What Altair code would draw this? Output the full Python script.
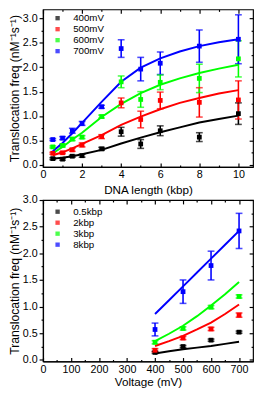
import altair as alt
import pandas as pd

# ---------- top panel: frequency vs DNA length ----------
kbp = [0.5, 1, 1.5, 2, 3, 4, 5, 6, 8, 10]
f400 = [0.13, 0.12, 0.18, 0.19, 0.33, 0.68, 0.43, 0.70, 0.57, 1.05]
e400 = [0.02, 0.02, 0.02, 0.03, 0.03, 0.09, 0.09, 0.10, 0.09, 0.22]
f500 = [0.24, 0.25, 0.31, 0.41, 0.58, 1.27, 0.93, 1.32, 1.28, 1.33]
e500 = [0.02, 0.02, 0.03, 0.04, 0.04, 0.10, 0.17, 0.17, 0.30, 0.39]
f600 = [0.37, 0.40, 0.53, 0.57, 0.99, 1.70, 1.34, 1.69, 1.77, 2.17]
e600 = [0.02, 0.03, 0.03, 0.03, 0.03, 0.12, 0.16, 0.15, 0.29, 0.37]
f700 = [0.52, 0.55, 0.70, 0.85, 1.19, 2.38, 1.96, 2.08, 2.43, 2.57]
e700 = [0.02, 0.03, 0.05, 0.04, 0.03, 0.18, 0.24, 0.23, 0.33, 0.50]

kbp_fit = [0.5, 1, 1.5, 2, 3, 4, 5, 6, 7, 8, 9, 10]
fit400 = [0.13, 0.15, 0.18, 0.22, 0.31, 0.44, 0.56, 0.67, 0.77, 0.87, 0.94, 1.01]
fit500 = [0.20, 0.26, 0.34, 0.43, 0.61, 0.82, 0.99, 1.14, 1.27, 1.37, 1.46, 1.53]
fit600 = [0.24, 0.37, 0.52, 0.66, 0.98, 1.25, 1.47, 1.64, 1.77, 1.88, 1.97, 2.05]
fit700 = [0.28, 0.45, 0.65, 0.86, 1.29, 1.70, 1.99, 2.18, 2.32, 2.43, 2.51, 2.57]

top_series = ["400mV", "500mV", "600mV", "700mV"]
top_x_major = [0, 2, 4, 6, 8, 10]
top_x_minor = [1, 3, 5, 7, 9]

# ---------- bottom panel: frequency vs voltage ----------
mv = [400, 500, 600, 700]
b05 = [0.14, 0.25, 0.37, 0.52]
be05 = [0.02, 0.02, 0.02, 0.02]
b2 = [0.18, 0.41, 0.58, 0.84]
be2 = [0.03, 0.03, 0.03, 0.04]
b3 = [0.33, 0.59, 0.99, 1.19]
be3 = [0.03, 0.03, 0.03, 0.03]
b8 = [0.57, 1.28, 1.77, 2.42]
be8 = [0.12, 0.22, 0.27, 0.33]

mv_fit = [400, 450, 500, 550, 600, 650, 700]
bfit05 = [0.12, 0.16, 0.20, 0.23, 0.26, 0.30, 0.34]
bfit2 = [0.26, 0.35, 0.45, 0.57, 0.70, 0.86, 1.04]
bfit3 = [0.35, 0.49, 0.64, 0.82, 1.02, 1.23, 1.46]
bfit8 = [0.86, 1.12, 1.38, 1.64, 1.90, 2.16, 2.42]

bot_series = ["0.5kbp", "2kbp", "3kbp", "8kbp"]
bot_x_major = [0, 100, 200, 300, 400, 500, 600, 700]
bot_x_minor = [50, 150, 250, 350, 450, 550, 650]

y_major = [0, 0.5, 1.0, 1.5, 2.0, 2.5, 3.0]
y_minor = [0.25, 0.75, 1.25, 1.75, 2.25, 2.75]
colors = ["#000000", "#ff0000", "#00ff00", "#0000ff"]

FONT = "Liberation Sans"
YTITLE = "Translocation freq (nM\u207b\u00b9s\u207b\u00b9)"


def long_points(xs, ys_list, es_list, names):
    rows = []
    for name, c, ys, es in zip(names, colors, ys_list, es_list):
        for x, y, e in zip(xs, ys, es):
            rows.append({"x": x, "y": y, "lo": y - e, "hi": y + e, "s": name, "c": c})
    return pd.DataFrame(rows)


def long_lines(xs, ys_list, names):
    rows = []
    for name, c, ys in zip(names, colors, ys_list):
        for x, y in zip(xs, ys):
            rows.append({"x": x, "y": y, "s": name, "c": c})
    return pd.DataFrame(rows)


def tick_axis(orient, values, size, inward=True):
    kw = dict(orient=orient, values=values, labels=False, title=None,
              domain=False, grid=False, ticks=True, tickSize=size)
    if inward:
        kw["offset"] = -size
    return alt.Axis(**kw)


def panel(pts, fits, names, xdom, ydom, xmajor, xminor, xtitle, legend_y, xtpad):
    xs = alt.Scale(domain=xdom, nice=False, zero=False)
    ys = alt.Scale(domain=ydom, nice=False, zero=False)
    raw = alt.Color("c:N", scale=None)

    base = alt.Chart(pts)
    rules = base.mark_rule(strokeWidth=1.6).encode(
        x=alt.X("x:Q", scale=xs, axis=None),
        y=alt.Y("lo:Q", scale=ys, axis=None),
        y2="hi:Q", color=raw)
    caps_lo = base.mark_tick(size=7, thickness=1.6, orient="horizontal").encode(
        x=alt.X("x:Q", axis=None), y=alt.Y("lo:Q", axis=None), color=raw)
    caps_hi = base.mark_tick(size=7, thickness=1.6, orient="horizontal").encode(
        x=alt.X("x:Q", axis=None), y=alt.Y("hi:Q", axis=None), color=raw)
    lines = alt.Chart(fits).mark_line(strokeWidth=2).encode(
        x=alt.X("x:Q", axis=None), y=alt.Y("y:Q", axis=None), color=raw, detail="s:N")
    squares = base.mark_square(size=24, opacity=1).encode(
        x=alt.X("x:Q", axis=None), y=alt.Y("y:Q", axis=None),
        color=alt.Color("s:N", scale=alt.Scale(domain=names, range=colors),
                        legend=alt.Legend(title=None, orient="none", legendX=10,
                                          legendY=legend_y,
                                          symbolType="square", symbolSize=20,
                                          labelFontSize=10, labelFont=FONT,
                                          labelOffset=11, rowPadding=1.3, padding=0,
                                          symbolStrokeWidth=0)))
    main = alt.layer(rules, caps_lo, caps_hi, lines, squares)

    def ghost(xax, yax):
        return alt.Chart(pts).mark_point(opacity=0).encode(
            x=alt.X("x:Q", scale=xs, axis=xax), y=alt.Y("y:Q", scale=ys, axis=yax))

    labelled = ghost(
        alt.Axis(orient="bottom", values=xmajor, title=xtitle, grid=False, ticks=False,
                 labelOverlap=False, labelFlush=False, labelPadding=2,
                 titlePadding=xtpad, titleFontSize=12),
        alt.Axis(orient="left", values=y_major, title=YTITLE, grid=False, format=".1f",
                 labelOverlap=False, labelFlush=False, tickSize=4,
                 labelPadding=2, titlePadding=1, titleFontSize=12.5))
    g1 = ghost(tick_axis("bottom", xmajor, 4), tick_axis("right", y_major, 4))
    g2 = ghost(tick_axis("bottom", xminor, 2), tick_axis("right", y_minor, 2))
    g3 = ghost(tick_axis("top", xmajor, 4), tick_axis("left", y_minor, 2, inward=False))
    g4 = ghost(tick_axis("top", xminor, 2), None)
    return alt.layer(main, labelled, g1, g2, g3, g4).resolve_axis(x="independent", y="independent")


top_pts = long_points(kbp, [f400, f500, f600, f700], [e400, e500, e600, e700], top_series)
top_fit = long_lines(kbp_fit, [fit400, fit500, fit600, fit700], top_series)
bot_pts = long_points(mv, [b05, b2, b3, b8], [be05, be2, be3, be8], bot_series)
bot_fit = long_lines(mv_fit, [bfit05, bfit2, bfit3, bfit8], bot_series)

top = panel(top_pts, top_fit, top_series, [0, 10.75], [-0.04, 3.18],
            top_x_major, top_x_minor, "DNA length (kbp)", 4, 5).properties(width=216, height=162)
bottom = panel(bot_pts, bot_fit, bot_series, [0, 750], [-0.03, 3.0],
               bot_x_major, bot_x_minor, "Voltage (mV)", 7, 3).properties(width=216, height=166)

chart = alt.vconcat(top, bottom, spacing=-3).resolve_scale(color="independent").properties(
    padding={"left": 0, "top": -6, "right": 0, "bottom": 0}
).configure_view(stroke="black", strokeWidth=1.2).configure_axis(
    labelFont=FONT, titleFont=FONT, labelFontSize=11, labelOverlap=False,
    titleFontWeight="normal", labelColor="black", titleColor="black",
    tickColor="black", domainColor="black", tickWidth=1.2, domainWidth=1.2
)

chart.save("out.html", embed_options={"renderer": "svg", "actions": False})
